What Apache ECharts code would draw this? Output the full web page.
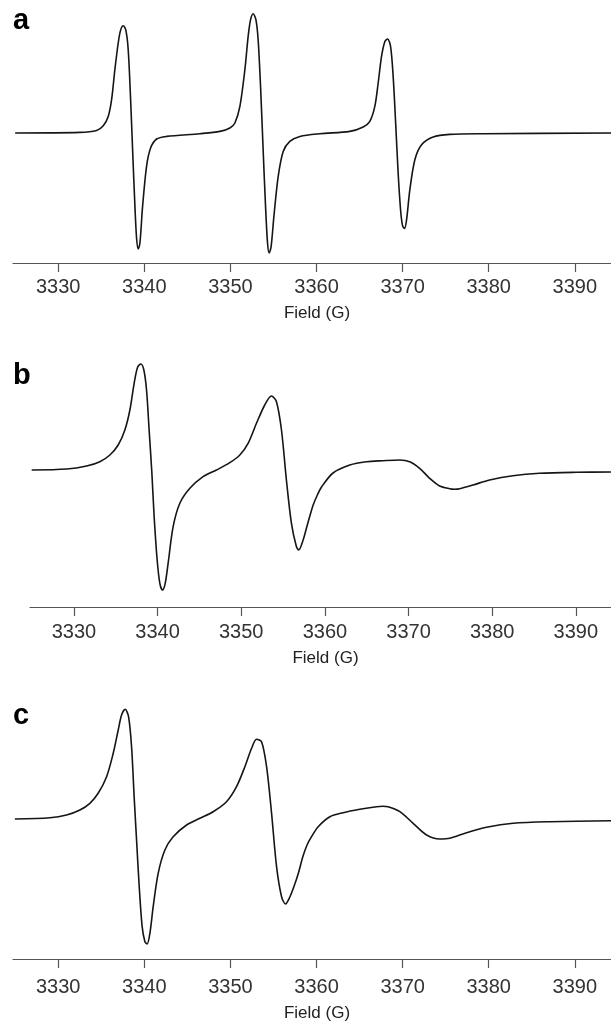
<!DOCTYPE html>
<html>
<head>
<meta charset="utf-8">
<style>
  html, body { margin: 0; padding: 0; background: #fff; }
  #main { width: 611px; height: 1023px; }
</style>
<script src="https://cdn.jsdelivr.net/npm/echarts@6/dist/echarts.min.js"></script>
</head>
<body>
<div id="main"></div>
<script>
// field axis (G)
var fieldMin = 3324.75;
var fieldMax = 3394.2;
var tickValues = [3330, 3340, 3350, 3360, 3370, 3380, 3390];
var panelLabels = ['a', 'b', 'c'];

// spectrum a
var fieldA = [3325.0, 3332.5, 3334.46, 3335.23, 3335.81, 3336.2, 3336.58, 3336.97, 3337.24, 3337.55,
  3337.86, 3338.13, 3338.41, 3338.64, 3338.91, 3339.1, 3339.29, 3339.49, 3339.8, 3340.26,
  3340.73, 3341.43, 3342.59, 3346.45, 3348.78, 3349.94, 3350.52, 3351.1, 3351.68, 3352.06,
  3352.34, 3352.64, 3352.96, 3353.22, 3353.5, 3353.8, 3354.08, 3354.31, 3354.5, 3354.73,
  3355.05, 3355.55, 3356.13, 3356.9, 3358.07, 3360.39, 3363.87, 3365.42, 3366.19, 3366.77,
  3367.16, 3367.55, 3367.94, 3368.25, 3368.6, 3368.9, 3369.21, 3369.48, 3369.76, 3369.99,
  3370.22, 3370.46, 3370.84, 3371.42, 3372.2, 3373.54, 3375.48, 3379.35, 3394.2];
var signalA = [0, 0.6, 2.6, 7.3, 16.6, 33.3, 63.3, 90, 102.6, 107.3,
  102.6, 83.3, 33.3, -16.7, -73.4, -105, -116, -110, -73.4, -33.4,
  -15, -6, -3.4, -0.7, 1.6, 5, 10, 26.6, 63.3, 96.6,
  113.3, 119.3, 113.3, 93.3, 46.6, -16.7, -73.4, -110, -120, -113.4,
  -83.4, -43.4, -18.4, -8.4, -3.4, -0.7, 1.6, 6, 11.6, 26.6,
  50, 76.6, 91.6, 94, 86.6, 56.6, 6.6, -40, -76.7, -92.7,
  -95.4, -86.7, -56.7, -26.7, -11.7, -4, -1.4, -0.7, 0];

// spectrum b
var fieldB = [3324.95, 3329.13, 3331.52, 3333.1, 3334.3, 3335.29, 3336.09, 3336.69, 3337.2, 3337.61,
  3338.0, 3338.36, 3338.68, 3338.99, 3339.32, 3339.59, 3339.95, 3340.27, 3340.59, 3340.91,
  3341.26, 3341.86, 3342.66, 3343.86, 3345.44, 3347.04, 3348.63, 3349.83, 3350.82, 3351.82,
  3352.81, 3353.61, 3354.21, 3354.81, 3355.4, 3356.0, 3356.6, 3356.87, 3357.4, 3357.8,
  3358.2, 3358.6, 3359.1, 3359.6, 3360.97, 3362.97, 3364.96, 3366.95, 3368.94, 3370.13,
  3371.33, 3372.52, 3373.72, 3374.91, 3375.5, 3376.11, 3377.7, 3379.69, 3382.48, 3385.66,
  3390.04, 3394.2];
var signalB = [0, 1, 4, 8.3, 15, 25, 40, 60, 86.7, 102.7,
  106, 100, 80, 40, -3.3, -46.7, -90, -113.3, -120, -113.3,
  -93.3, -56.7, -33.3, -18.3, -6.7, 0, 7.3, 15, 26.7, 46.7,
  65, 74, 68.3, 40, -10, -53.3, -76.7, -80, -70, -58,
  -46, -35, -25, -17, -3, 5, 8.3, 9.3, 10, 8.3,
  1.7, -8.3, -16, -18.7, -19.2, -18.7, -15, -10, -5.7, -3.3,
  -2.3, -2];

// spectrum c
var fieldC = [3324.97, 3329.04, 3330.97, 3332.52, 3333.68, 3334.64, 3335.62, 3336.39, 3336.97, 3337.36,
  3337.78, 3338.17, 3338.52, 3338.82, 3339.1, 3339.41, 3339.75, 3340.07, 3340.33, 3340.65,
  3341.03, 3341.61, 3342.39, 3343.35, 3344.91, 3346.45, 3347.99, 3349.55, 3350.71, 3351.68,
  3352.46, 3353.04, 3353.62, 3354.2, 3354.78, 3355.36, 3355.94, 3356.4, 3356.9, 3357.4,
  3357.9, 3358.4, 3358.9, 3359.42, 3360.19, 3361.55, 3363.09, 3365.03, 3366.97, 3367.7,
  3368.32, 3369.68, 3371.22, 3372.78, 3374.32, 3375.48, 3377.42, 3379.74, 3382.83, 3387.09,
  3394.2];
var signalC = [0, 1.3, 4, 9, 15.7, 25.7, 42.3, 65.7, 89, 104,
  109.7, 102.3, 72.3, 22.3, -21, -67.7, -107.7, -122.7, -125, -114.3,
  -87.7, -54.3, -31, -17.7, -6, 0.7, 7.3, 17.3, 32.3, 52.3,
  70.7, 79.7, 77.3, 52.3, 5.7, -47.7, -77.7, -85, -78, -67,
  -54, -38, -26, -17.7, -7.7, 2.3, 6.3, 9.7, 12.3, 12.8,
  12.3, 7.3, -4.3, -16, -20, -19.3, -13.7, -8.3, -4.3, -2.7,
  -1.7];

function zip(xs, ys) {
  var out = [];
  for (var i = 0; i < xs.length; i++) {
    out.push([xs[i], ys[i]]);
  }
  return out;
}

var myChart = echarts.init(document.getElementById('main'), null, { renderer: 'canvas' });

var textFont = '"Liberation Sans", Arial, sans-serif';

// one panel = one grid
var grids = [
  { left: 13, right: 0, top: 0, bottom: 760 },
  { left: 30, right: 0, top: 330, bottom: 416 },
  { left: 13, right: 0, top: 680, bottom: 64 }
];
var yRanges = [[-130, 133], [-137, 140], [-140, 139]];
var labelMargins = [14, 15, 18];
var nameGaps = [42, 43, 46];
var labelTops = [6, 361, 701];
var seriesData = [zip(fieldA, signalA), zip(fieldB, signalB), zip(fieldC, signalC)];

var xAxes = [], yAxes = [], series = [], titles = [];
for (var i = 0; i < 3; i++) {
  xAxes.push({
    gridIndex: i,
    type: 'value',
    position: 'bottom',
    min: fieldMin,
    max: fieldMax,
    name: 'Field (G)',
    nameLocation: 'middle',
    nameGap: nameGaps[i],
    nameTextStyle: { fontFamily: textFont, fontSize: 17, color: '#222', padding: [0, 0, 0, 10] },
    axisLine: { show: true, onZero: false, lineStyle: { color: '#555', width: 1.2 } },
    axisTick: { show: true, length: 9, customValues: tickValues, lineStyle: { color: '#555', width: 1.2 } },
    axisLabel: {
      customValues: tickValues,
      margin: labelMargins[i],
      fontFamily: textFont,
      fontSize: 20,
      color: '#333',
      formatter: function (v) { return String(v); }
    },
    splitLine: { show: false }
  });
  yAxes.push({
    gridIndex: i,
    type: 'value',
    min: yRanges[i][0],
    max: yRanges[i][1],
    show: false,
    splitLine: { show: false }
  });
  series.push({
    type: 'line',
    xAxisIndex: i,
    yAxisIndex: i,
    data: seriesData[i],
    showSymbol: false,
    smooth: 0.3,
    lineStyle: { color: '#151515', width: 1.6 },
    animation: false
  });
  titles.push({
    text: panelLabels[i],
    left: 13,
    top: labelTops[i],
    padding: 0,
    textStyle: { fontFamily: textFont, fontSize: 29, fontWeight: 'bold', color: '#000' }
  });
}

myChart.setOption({
  backgroundColor: '#fff',
  animation: false,
  title: titles,
  grid: grids,
  xAxis: xAxes,
  yAxis: yAxes,
  series: series
});
</script>
</body>
</html>
